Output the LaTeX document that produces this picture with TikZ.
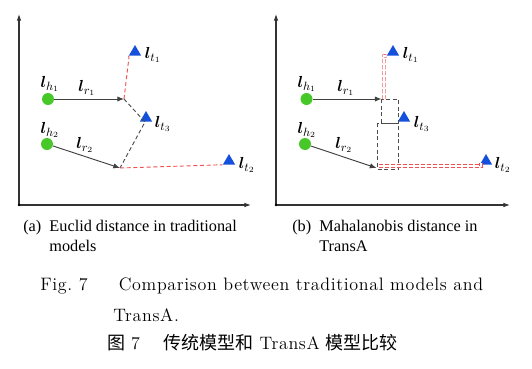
\documentclass[tikz,border=0pt]{standalone}
\usepackage{fontspec}
\usepackage{amsmath}
\usepackage{bm}
\usepackage{xcolor}
\usepackage{tikz}
\usetikzlibrary{arrows.meta,shapes.geometric,calc}
\newfontfamily\capfont{Liberation Serif}
\newfontfamily\cjk{Noto Sans CJK SC}
\newfontfamily\figfont[LetterSpace=3.6]{Latin Modern Roman}

\definecolor{ptgreen}{RGB}{70,200,40}
\definecolor{ptblue}{RGB}{20,80,220}
\definecolor{dred}{RGB}{240,80,80}

\tikzset{
  ent/.style={circle,fill=ptgreen,inner sep=0pt,minimum size=9pt},
  tail/.style={regular polygon,regular polygon sides=3,fill=ptblue,inner sep=0pt,minimum size=10.5pt},
  vec/.style={draw=black!75,line width=0.7pt,-{Latex[length=5pt,width=4pt]}},
  axis/.style={draw=black!80,line width=0.8pt,-{Latex[length=5pt,width=3.5pt]}},
  eudist/.style={draw=dred,line width=0.7pt,dash pattern=on 3pt off 2pt},
  bldist/.style={draw=black!70,line width=0.7pt,dash pattern=on 3pt off 2pt},
  mhdist/.style={draw=dred,double=white,double distance=1.6pt,line width=0.5pt,dash pattern=on 3pt off 1.5pt},
  lab/.style={inner sep=0pt,font=\fontsize{13}{13}\selectfont},
  subcap/.style={anchor=north west,inner sep=0pt,align=left,font=\capfont\fontsize{12.2}{15}\selectfont},
}

\begin{document}
\begin{tikzpicture}[x=0.75pt,y=-0.75pt,>=latex]
  \useasboundingbox (0,0) rectangle (532,368);

  % (a) Euclid
  \coordinate (oa) at (19,205);
  \coordinate (ya) at (19,14);
  \coordinate (xa) at (251,205);
  \draw[axis] (oa) -- (ya);
  \draw[axis] (oa) -- (xa);
  \fill[black] (oa) circle (1pt);

  \node[ent] (ha1) at (48,99) {};
  \node[ent] (ha2) at (47,144) {};
  \node[tail] (ta1) at (135,52) {};
  \node[tail] (ta3) at (146,118) {};
  \node[tail] (ta2) at (229,161) {};
  \coordinate (ea1) at (124,99);
  \coordinate (ea2) at (120,168);
  \coordinate (ka1) at (129,57);
  \coordinate (ka3) at (145,122);

  \draw[eudist] (ea1) -- (ka1) -- (ta1.corner 2);
  \draw[bldist] (ea1) -- (ka3) -- (ea2);
  \draw[eudist] (ea2) -- (ta2.corner 2);
  \draw[vec] (ha1) -- (ea1);
  \draw[vec] (ha2) -- (ea2);

  \node[lab] (lha1) at (50,84) {$\bm{l}_{h_1}$};
  \node[lab] (lha2) at (50,130) {$\bm{l}_{h_2}$};
  \node[lab] (lra1) at (87,88) {$\bm{l}_{r_1}$};
  \node[lab] (lra2) at (85,145) {$\bm{l}_{r_2}$};
  \node[lab] (lta1) at (153,55) {$\bm{l}_{t_1}$};
  \node[lab] (lta3) at (163,124) {$\bm{l}_{t_3}$};
  \node[lab] (lta2) at (247,165) {$\bm{l}_{t_2}$};

  % (b) Mahalanobis
  \coordinate (ob) at (276,205);
  \coordinate (yb) at (276,14);
  \coordinate (xb) at (510,205);
  \draw[axis] (ob) -- (yb);
  \draw[axis] (ob) -- (xb);
  \fill[black] (ob) circle (1pt);

  \node[ent] (hb1) at (306.5,99) {};
  \node[ent] (hb2) at (305,144) {};
  \node[tail] (tb1) at (393,52) {};
  \node[tail] (tb3) at (404,118) {};
  \node[tail] (tb2) at (486,161) {};
  \coordinate (eb1) at (381.5,99);
  \coordinate (eb2) at (376.5,168);

  \draw[bldist] (eb1) rectangle (398.5,123);
  \draw[bldist] (377,123) rectangle (398.5,169);
  \draw[mhdist] ($(eb1)+(2.5,0)$) -- (384,56) -- (tb1.corner 2);
  \draw[mhdist] ($(eb2)+(2,-2)$) -- (481,166) -- (481,163);
  \draw[vec] (hb1) -- (eb1);
  \draw[vec] (hb2) -- (eb2);

  \node[lab] (lhb1) at (307,84) {$\bm{l}_{h_1}$};
  \node[lab] (lhb2) at (307,130) {$\bm{l}_{h_2}$};
  \node[lab] (lrb1) at (346,88) {$\bm{l}_{r_1}$};
  \node[lab] (lrb2) at (344,145) {$\bm{l}_{r_2}$};
  \node[lab] (ltb1) at (411,55) {$\bm{l}_{t_1}$};
  \node[lab] (ltb3) at (422,124) {$\bm{l}_{t_3}$};
  \node[lab] (ltb2) at (503,165) {$\bm{l}_{t_2}$};

  % captions
  \node[subcap] (capa) at (23,220)
    {(a)\ \ Euclid distance in traditional\\\hphantom{(a)\ \ }models};
  \node[subcap] (capb) at (292,220)
    {(b)\ \ Mahalanobis distance in\\\hphantom{(b)\ \ }TransA};
  \node[anchor=west,inner sep=0pt,font=\figfont\fontsize{13.5}{13.5}\selectfont] (fige) at (40,286)
    {Fig.~7\quad\ \hskip5pt Comparison between traditional models and};
  \node[anchor=west,inner sep=0pt,font=\figfont\fontsize{13.5}{13.5}\selectfont] (fige2) at (113,315)
    {TransA.};
  \node[anchor=west,inner sep=0pt,font=\fontsize{13.5}{13.5}\selectfont] (figc) at (107,343)
    {{\cjk 图} {\figfont 7}\quad\ {\cjk 传统模型和} {\figfont TransA} {\cjk 模型比较}};
\end{tikzpicture}
\end{document}
